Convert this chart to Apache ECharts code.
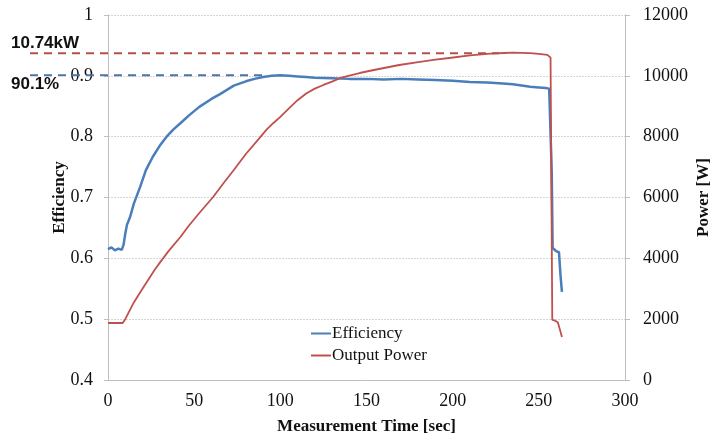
<!DOCTYPE html>
<html><head><meta charset="utf-8">
<script src="https://cdn.jsdelivr.net/npm/echarts@6/dist/echarts.min.js"></script>
<style>html,body{margin:0;padding:0;background:#fff}#c{width:714px;height:439px}</style>
</head><body><div id="c"></div>
<script>
// Efficiency series (time [sec], efficiency)
const effTime = [0,2,4,6,8,9,10,11,12.8,15,18.6,22,26,30,34,38,42,47,53,60,65,69,73,80,85,90,95,100,105,110,115,120,130,140,150,160,170,180,190,200,210,220,227,235,245,250,254,256,256.8,257.5,258,259,260,261,261.7,262.5,263.4];
const effVals = [0.615,0.618,0.613,0.616,0.614,0.622,0.64,0.655,0.668,0.69,0.717,0.745,0.767,0.785,0.8,0.812,0.822,0.835,0.849,0.862,0.87,0.877,0.884,0.891,0.895,0.898,0.9,0.901,0.9,0.899,0.898,0.897,0.896,0.895,0.895,0.894,0.895,0.894,0.893,0.892,0.89,0.889,0.888,0.886,0.882,0.881,0.88,0.879,0.876,0.74,0.617,0.618,0.612,0.614,0.61,0.575,0.545];
// Output power series (time [sec], W)
const powTime = [0,4,8.5,10,15,20,27,30,35,42,47,53,61,67,73,80,88,92,96,100,105,110,115,120,125,130,135,140,146,155,169,180,190,198,210,222,230,235,240,245,250,255,256.8,257.8,259,260,261,261.5,262.5,263.4];
const powVals = [1874,1874,1874,2000,2550,3000,3616,3850,4230,4700,5080,5490,6016,6470,6904,7430,7960,8230,8450,8650,8930,9200,9420,9580,9700,9810,9930,10010,10093,10200,10356,10450,10530,10586,10670,10730,10750,10760,10755,10745,10720,10690,10600,1973,1960,1950,1900,1874,1600,1414];
const xTicks = [0,50,100,150,200,250,300];
const effTicks = [0.4,0.5,0.6,0.7,0.8,0.9,1];
const powTicks = [0,2000,4000,6000,8000,10000,12000];
const effMarkVal = 0.901, effMarkText = '90.1%';
const powMarkVal = 10740, powMarkText = '10.74kW';

const chart = echarts.init(document.getElementById('c'));
const serif = '"Liberation Serif","Times New Roman",serif';
const axisLineGray = {show:true, lineStyle:{color:'#bfbfbf', width:1}};
chart.setOption({
  animation:false,
  grid:{left:108, right:89, top:15, bottom:59, containLabel:false, outerBoundsMode:'none'},
  legend:{
    left:306, top:320, orient:'vertical', itemGap:5, itemWidth:20, itemHeight:2,
    icon:'rect',
    textStyle:{fontFamily:serif, fontSize:17, color:'#111', padding:[0,0,0,-4]},
    data:['Efficiency','Output Power']
  },
  xAxis:{
    type:'value', min:xTicks[0], max:xTicks[xTicks.length-1], interval:50,
    axisLine:axisLineGray, axisTick:{show:false}, splitLine:{show:false},
    axisLabel:{fontFamily:serif, fontSize:18, color:'#111', margin:12},
    name:'Measurement Time [sec]', nameLocation:'middle', nameGap:38, nameMoveOverlap:false,
    nameTextStyle:{fontFamily:serif, fontSize:17, fontWeight:'bold', color:'#111'}
  },
  yAxis:[{
    type:'value', min:effTicks[0], max:effTicks[effTicks.length-1], interval:0.1,
    axisLine:axisLineGray, axisTick:{show:true, length:4, lineStyle:{color:'#bfbfbf'}},
    splitLine:{show:true, lineStyle:{color:'#d6d6d6', type:[2,1]}},
    axisLabel:{fontFamily:serif, fontSize:18, color:'#111', margin:15,
      formatter:v=>String(Math.round(v*10)/10)},
    name:'Efficiency', nameLocation:'middle', nameGap:40, nameMoveOverlap:false,
    nameTextStyle:{fontFamily:serif, fontSize:17, fontWeight:'bold', color:'#111'}
  },{
    type:'value', min:powTicks[0], max:powTicks[powTicks.length-1], interval:2000, position:'right',
    axisLine:axisLineGray, axisTick:{show:true, length:5, lineStyle:{color:'#bfbfbf'}},
    splitLine:{show:false},
    axisLabel:{fontFamily:serif, fontSize:18, color:'#111', margin:18, formatter:v=>String(v)},
    name:'Power [W]', nameLocation:'middle', nameGap:70, nameMoveOverlap:false,
    nameTextStyle:{fontFamily:serif, fontSize:17, fontWeight:'bold', color:'#111'}
  }],
  series:[{
    name:'Efficiency', type:'line', yAxisIndex:0, showSymbol:false,
    data:effTime.map((t,i)=>[t,effVals[i]]),
    lineStyle:{color:'#4a7ebb', width:2.5}, itemStyle:{color:'#4a7ebb'}, z:3
  },{
    name:'Output Power', type:'line', yAxisIndex:1, showSymbol:false,
    data:powTime.map((t,i)=>[t,powVals[i]]),
    lineStyle:{color:'#c0504d', width:1.8}, itemStyle:{color:'#c0504d'}, z:4
  }]
});
const yE = chart.convertToPixel({yAxisIndex:0}, effMarkVal);
const xE = chart.convertToPixel({xAxisIndex:0}, 90);
const yP = chart.convertToPixel({yAxisIndex:1}, powMarkVal);
const xP = chart.convertToPixel({xAxisIndex:0}, 227);
chart.setOption({
  graphic:[
    {type:'line', shape:{x1:30,y1:yP,x2:xP,y2:yP}, style:{stroke:'#b5504d', lineWidth:2, lineDash:[8,6]}, z:10},
    {type:'line', shape:{x1:30,y1:yE,x2:xE,y2:yE}, style:{stroke:'#4f73a6', lineWidth:2, lineDash:[8,6]}, z:10},
    {type:'text', left:11, top:yP-19, style:{text:powMarkText, font:'bold 17px "Liberation Sans",Arial,sans-serif', fill:'#111'}, z:11},
    {type:'text', left:11, top:yE+1, style:{text:effMarkText, font:'bold 17px "Liberation Sans",Arial,sans-serif', fill:'#111'}, z:11}
  ]
});
</script></body></html>
